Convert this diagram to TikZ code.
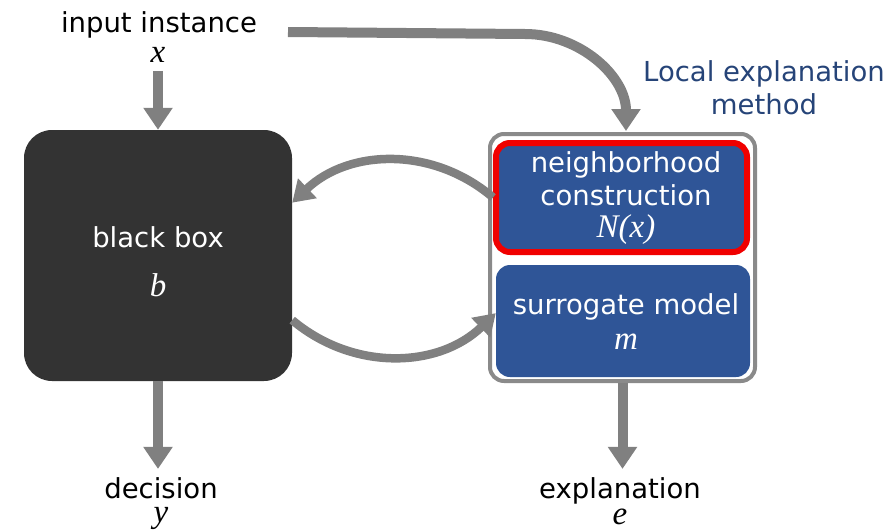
\documentclass[tikz,border=0pt]{standalone}
\usepackage{fontspec}
\setmainfont{DejaVu Sans}
\newfontfamily\varserif{Liberation Serif}
\usetikzlibrary{arrows.meta,calc}
\definecolor{flowgray}{HTML}{808080}
\definecolor{framegray}{HTML}{8A8A8A}
\definecolor{boxdark}{HTML}{333333}
\definecolor{boxblue}{HTML}{2F5597}
\definecolor{hlred}{HTML}{F00000}
\definecolor{lemblue}{HTML}{264478}
\begin{document}
\begin{tikzpicture}[x=1pt,y=-1pt,
  lbl/.style={font=\fontsize{27.5}{33}\selectfont, inner sep=0pt},
  var/.style={font=\varserif\itshape\fontsize{33}{33}\selectfont, inner sep=0pt},
  flow/.style={draw=flowgray, line width=10pt, -{Triangle[length=22pt,width=28pt]}},
  loopflow/.style={draw=flowgray, line width=8.5pt, -{Triangle[length=21pt,width=26pt]}},
  panel/.style={fill=boxblue, rounded corners=14pt, inner sep=0pt}]
\useasboundingbox (0,0) rectangle (886,530);

% black box model
\node[fill=boxdark, rounded corners=28pt, minimum width=268pt, minimum height=251pt, inner sep=0pt] (bb) at (158,255.5) {};
\node[lbl, text=white] (bbt) at (158,237) {black box};
\node[var, text=white] (bbv) at (158,285) {b};

% local explanation method frame and its two stages
\node[draw=framegray, line width=4pt, fill=white, rounded corners=14pt, minimum width=265pt, minimum height=247pt, inner sep=0pt] (lem) at (622.5,257.5) {};
\node[panel, draw=hlred, line width=6pt, minimum width=251pt, minimum height=109pt] (nb) at (621.5,197.5) {};
\node[panel, minimum width=254pt, minimum height=112pt] (sm) at (623,321) {};
\node[lbl, text=white, align=center] (nbt) at (626,179) {neighborhood\\construction};
\node[var, text=white] (nbv) at (626,230) {N(x)};
\node[lbl, text=white] (smt) at (626,307) {surrogate model};
\node[var, text=white] (smv) at (626,342) {m};
\node[lbl, text=lemblue, align=center] (lemt) at (764,88) {Local explanation\\method};

% inputs and outputs
\node[lbl] (inp) at (159,25) {input instance};
\node[var] (xv) at (158,55) {x};
\node[lbl, anchor=base] (dec) at (161,498) {decision};
\node[var, anchor=base] (yv) at (161,522) {y};
\node[lbl, anchor=base] (expl) at (620,498) {explanation};
\node[var, anchor=base] (ev) at (620,524) {e};

\coordinate (tstart) at (288,32);
\coordinate (tend) at (626,131);

% connectors
\draw[flow] ([yshift=-8pt]xv.south) -- (bb.north);
\draw[flow] (tstart) -- (525,34) to[out=0,in=90] (tend);
\draw[flow] (bb.south) -- ([yshift=8pt]dec.north -| bb.south);
\draw[flow] (lem.south) -- ([yshift=8pt]expl.north -| lem.south);
\draw[loopflow] (nb.west) to[bend right=42] ($(bb.north east)!0.29!(bb.south east)$);
\draw[loopflow] ($(bb.north east)!0.757!(bb.south east)$) to[bend right=42] ($(sm.north west)!0.43!(sm.south west)$);
\end{tikzpicture}
\end{document}
